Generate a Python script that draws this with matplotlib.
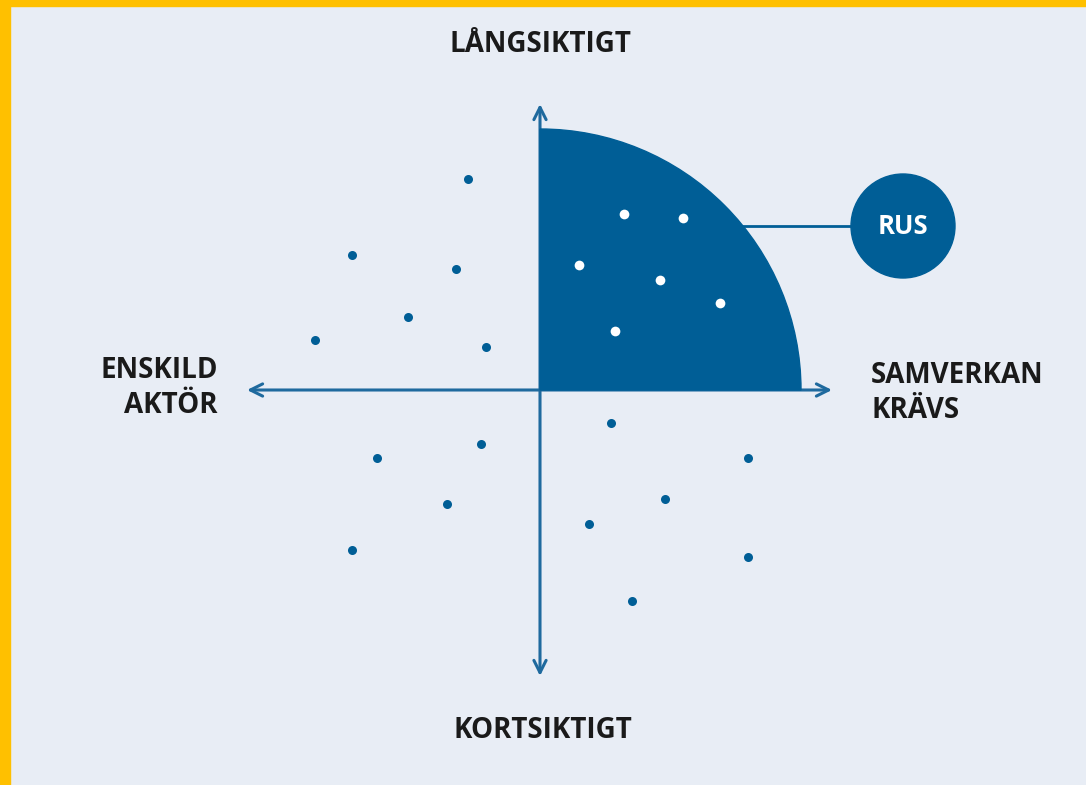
import matplotlib
matplotlib.use("Agg")
import matplotlib.pyplot as plt
from matplotlib.patches import Wedge, Circle, Rectangle

# data, origin at the axis crossing
blue_x = [-72, -188, -84, -132, -225, -54, -163, -59, -93, -188, 71, 208, 125, 49, 208, 92]
blue_y = [211, 135, 121, 73, 50, 43, -68, -54, -114, -160, -33, -68, -109, -134, -167, -211]
white_x = [84, 143, 39, 120, 180, 75]
white_y = [176, 172, 125, 110, 87, 59]
radius = 261
rus_center = (363, 164)
rus_radius = 52

blue = '#005E96'
arrow_col = '#1F6A9E'
text_col = '#1A1A1A'
bg = '#E8EDF5'

plt.rcParams['font.family'] = ['Open Sans', 'DejaVu Sans']

fig = plt.figure(figsize=(10.86, 7.85), dpi=100)
fig.patch.set_facecolor(bg)
ax = fig.add_axes([0, 0, 1, 1])
ax.set_xlim(-540, 546)
ax.set_ylim(-395, 390)
ax.axis('off')

# yellow frame (left and top)
ax.add_patch(Rectangle((-540, -395), 10, 785, color='#FFC000', zorder=0))
ax.add_patch(Rectangle((-540, 384), 1086, 6, color='#FFC000', zorder=0))

ax.add_patch(Wedge((0, 0), radius, 0, 90, color=blue, zorder=2))

arr = dict(arrowstyle='<->', lw=2.2, color=arrow_col, mutation_scale=22,
           shrinkA=0, shrinkB=0)
ax.annotate('', xy=(0, 286), xytext=(0, -286), arrowprops=arr, zorder=1)
ax.annotate('', xy=(292, 0), xytext=(-293, 0), arrowprops=arr, zorder=1)

ax.plot(blue_x, blue_y, 'o', color=blue, ms=6.5, mec='none', zorder=3)
ax.plot(white_x, white_y, 'o', color='white', ms=7, mec='none', zorder=3)

# RUS bubble
x0 = (radius**2 - rus_center[1]**2) ** 0.5
ax.plot([x0, rus_center[0]], [rus_center[1], rus_center[1]], color=blue, lw=2, zorder=2)
ax.add_patch(Circle(rus_center, rus_radius, color=blue, zorder=3))
ax.text(rus_center[0], rus_center[1] - 1, 'RUS', color='white', fontsize=18.5,
        fontweight='bold', ha='center', va='center', zorder=4)

kw = dict(color=text_col, fontsize=20, fontweight='bold', linespacing=1.3)
ax.text(0, 346, 'LÅNGSIKTIGT', ha='center', va='center', **kw)
ax.text(3, -341, 'KORTSIKTIGT', ha='center', va='center', **kw)
ax.text(-322, 2, 'ENSKILD\nAKTÖR', ha='right', va='center', multialignment='right', **kw)
ax.text(331, -3, 'SAMVERKAN\nKRÄVS', ha='left', va='center', multialignment='left', **kw)

fig.savefig('out.png', dpi=100, facecolor=bg)
